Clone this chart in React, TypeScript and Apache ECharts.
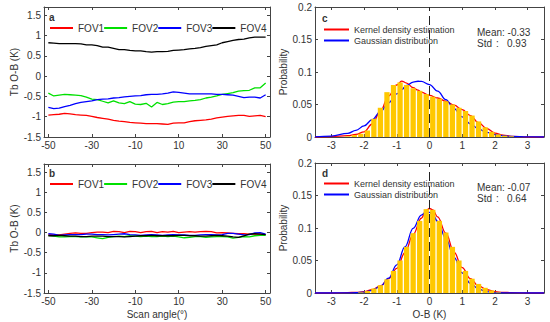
import React, { useEffect, useRef } from "react";
import * as echarts from "echarts";

// ---------- data ----------
const SCAN_ANGLES = [
  -50, -47.5, -45, -42.5, -40, -37.5, -35, -32.5, -30, -27.5, -25, -22.5, -20, -17.5, -15, -12.5, -10, -7.5, -5, -2.5,
  0, 2.5, 5, 7.5, 10, 12.5, 15, 17.5, 20, 22.5, 25, 27.5, 30, 32.5, 35, 37.5, 40, 42.5, 45, 47.5, 50,
];

const FOV1_A = [
  -0.96, -0.95, -0.94, -0.92, -0.93, -0.95, -0.96, -0.97, -0.99, -1.02, -1.04, -1.06, -1.09, -1.11, -1.12, -1.14, -1.15, -1.16, -1.17, -1.17,
  -1.17, -1.18, -1.19, -1.16, -1.15, -1.15, -1.12, -1.1, -1.09, -1.08, -1.06, -1.03, -1.01, -0.99, -0.98, -0.97, -0.97, -0.99, -0.98, -0.97, -1.0,
];
const FOV2_A = [
  -0.42, -0.49, -0.47, -0.45, -0.46, -0.47, -0.48, -0.52, -0.57, -0.58, -0.62, -0.66, -0.61, -0.66, -0.68, -0.63, -0.69, -0.7, -0.67, -0.76,
  -0.65, -0.7, -0.68, -0.64, -0.63, -0.63, -0.61, -0.6, -0.58, -0.54, -0.52, -0.49, -0.45, -0.43, -0.41, -0.37, -0.36, -0.35, -0.29, -0.29, -0.17,
];
const FOV3_A = [
  -0.77, -0.8, -0.79, -0.75, -0.72, -0.68, -0.65, -0.63, -0.61, -0.58, -0.57, -0.56, -0.54, -0.53, -0.51, -0.5, -0.49, -0.48, -0.46, -0.45,
  -0.45, -0.44, -0.42, -0.39, -0.4, -0.42, -0.44, -0.44, -0.44, -0.44, -0.44, -0.45, -0.45, -0.46, -0.47, -0.5, -0.53, -0.52, -0.52, -0.54, -0.46,
];
const FOV4_A = [
  0.82, 0.81, 0.8, 0.8, 0.8, 0.8, 0.79, 0.77, 0.77, 0.75, 0.71, 0.71, 0.68, 0.65, 0.65, 0.63, 0.62, 0.62, 0.6, 0.59,
  0.6, 0.6, 0.61, 0.63, 0.64, 0.65, 0.67, 0.68, 0.7, 0.73, 0.75, 0.77, 0.82, 0.85, 0.88, 0.9, 0.91, 0.94, 0.96, 0.96, 0.96,
];

const FOV1_B = [
  -0.05, -0.06, -0.06, -0.04, -0.02, -0.01, -0.02, -0.02, 0.0, 0.01, 0.01, 0.0, 0.03, 0.02, 0.0, 0.03, 0.02, 0.0, 0.02, 0.03,
  0.0, 0.02, 0.01, 0.03, 0.0, 0.01, 0.02, 0.01, 0.02, 0.03, 0.02, -0.01, 0.0, -0.01, -0.02, -0.03, -0.03, -0.04, -0.04, -0.04, -0.05,
];
const FOV2_B = [
  -0.07, -0.09, -0.11, -0.11, -0.1, -0.1, -0.11, -0.1, -0.11, -0.13, -0.15, -0.12, -0.1, -0.09, -0.1, -0.08, -0.09, -0.1, -0.09, -0.1,
  -0.1, -0.09, -0.1, -0.09, -0.11, -0.13, -0.12, -0.1, -0.1, -0.12, -0.11, -0.1, -0.1, -0.11, -0.14, -0.12, -0.1, -0.11, -0.08, -0.07, -0.07,
];
const FOV3_B = [
  -0.03, -0.04, -0.07, -0.06, -0.05, -0.05, -0.05, -0.04, -0.04, -0.05, -0.05, -0.06, -0.05, -0.04, -0.03, -0.05, -0.06, -0.07, -0.06, -0.05,
  -0.06, -0.07, -0.06, -0.05, -0.06, -0.06, -0.07, -0.07, -0.06, -0.05, -0.05, -0.06, -0.05, -0.02, -0.02, -0.04, -0.06, -0.05, -0.01, 0.0, -0.04,
];
const FOV4_B = [
  -0.08, -0.08, -0.07, -0.08, -0.09, -0.09, -0.1, -0.1, -0.09, -0.09, -0.09, -0.1, -0.1, -0.1, -0.11, -0.1, -0.09, -0.08, -0.08, -0.07,
  -0.08, -0.08, -0.08, -0.08, -0.07, -0.07, -0.08, -0.08, -0.09, -0.09, -0.08, -0.07, -0.08, -0.09, -0.11, -0.12, -0.08, -0.04, -0.03, -0.04, -0.05,
];

const BINS_C = [
  -2.5, -2.3, -2.1, -1.9, -1.7, -1.5, -1.3, -1.1, -0.9, -0.7, -0.5, -0.3, -0.1, 0.1, 0.3, 0.5, 0.7, 0.9, 1.1, 1.3, 1.5, 1.7, 1.9, 2.1, 2.3, 2.5,
];
const PROB_C = [
  0.001, 0.003, 0.005, 0.01, 0.028, 0.045, 0.069, 0.08, 0.084, 0.08, 0.075, 0.071, 0.066, 0.062, 0.059, 0.055, 0.05, 0.045, 0.04, 0.033, 0.024, 0.015, 0.008, 0.004, 0.002, 0.001,
];
const CURVE_X_C = [
  -3.5, -3, -2.5, -2.25, -2, -1.75, -1.5, -1.25, -1, -0.85, -0.7, -0.5, -0.35, -0.25, 0, 0.25, 0.5, 0.75, 1, 1.25, 1.5, 1.75, 2, 2.25, 2.5, 3, 3.5,
];
const KDE_C = [
  0, 0.0005, 0.002, 0.004, 0.008, 0.02, 0.04, 0.063, 0.08, 0.086, 0.083, 0.076, 0.072, 0.069, 0.064, 0.06, 0.055, 0.049, 0.042, 0.033, 0.022, 0.013, 0.006, 0.003, 0.001, 0, 0,
];
const GAUSS_C = [
  0.0003, 0.0014, 0.0056, 0.0102, 0.0171, 0.0267, 0.0389, 0.0526, 0.0662, 0.073, 0.0793, 0.0844, 0.0858, 0.0855, 0.0806, 0.0706, 0.0576, 0.0437, 0.0309, 0.0203, 0.0124, 0.007, 0.0037, 0.0018, 0.0008, 0.0001, 0,
];

const BINS_D = [
  -2.1, -1.9, -1.7, -1.5, -1.3, -1.1, -0.9, -0.7, -0.5, -0.3, -0.1, 0.1, 0.3, 0.5, 0.7, 0.9, 1.1, 1.3, 1.5, 1.7, 1.9, 2.1,
];
const PROB_D = [
  0.001, 0.003, 0.007, 0.012, 0.021, 0.034, 0.05, 0.071, 0.092, 0.111, 0.129, 0.128, 0.111, 0.093, 0.071, 0.05, 0.034, 0.022, 0.014, 0.008, 0.004, 0.001,
];
const CURVE_X_D = [
  -3.5, -3, -2.5, -2.25, -2, -1.75, -1.5, -1.25, -1, -0.75, -0.5, -0.25, -0.1, 0, 0.1, 0.25, 0.5, 0.75, 1, 1.25, 1.5, 1.75, 2, 2.25, 2.5, 3, 3.5,
];
const KDE_D = [
  0, 0, 0.0005, 0.001, 0.002, 0.005, 0.011, 0.022, 0.038, 0.062, 0.09, 0.115, 0.127, 0.13, 0.128, 0.117, 0.092, 0.063, 0.039, 0.022, 0.011, 0.005, 0.002, 0.001, 0.0005, 0, 0,
];
const GAUSS_D = [
  0, 0, 0.0001, 0.0004, 0.0013, 0.004, 0.0103, 0.0228, 0.0434, 0.0709, 0.0995, 0.1199, 0.1246, 0.124, 0.1204, 0.11, 0.0839, 0.0549, 0.0308, 0.0149, 0.0061, 0.0022, 0.0007, 0.0002, 0.0001, 0, 0,
];

const SCAN_TICKS = [-50, -30, -10, 10, 30, 50];
const TB_TICKS = [-1.5, -1, -0.5, 0, 0.5, 1, 1.5];
const OB_TICKS = [-3, -2, -1, 0, 1, 2, 3];
const PROB_TICKS = [0, 0.05, 0.1, 0.15, 0.2];

const FOV_NAMES = ["FOV1", "FOV2", "FOV3", "FOV4"];
const FOV_COLORS = ["#ff0000", "#00e000", "#0000ff", "#000000"];
const CURVE_NAMES = ["Kernel density estimation", "Gaussian distribution"];
const STATS_C = { mean: "-0.33", std: "0.93" };
const STATS_D = { mean: "-0.07", std: "0.64" };

// ---------- styling ----------
const FONT = "Liberation Sans, Arial, Helvetica, sans-serif";
const AX = "#444";
const TXT = "#333";
const BAR = "#FFC800";

const GRIDS = [
  { left: 44, top: 7, width: 226, height: 130 },
  { left: 44, top: 164, width: 226, height: 129 },
  { left: 315, top: 7, width: 229, height: 130 },
  { left: 315, top: 163, width: 229, height: 130 },
];

function zip(xs: number[], ys: number[]) {
  return xs.map((x, i) => [x, ys[i]]);
}

function xAxis(gi: number, min: number, max: number, ticks: number[], pos: string, show: boolean, name?: string) {
  return {
    type: "value",
    gridIndex: gi,
    min,
    max,
    position: pos,
    axisLine: { show: true, onZero: false, lineStyle: { color: AX, width: 1 } },
    axisTick: { show: true, inside: true, length: 3, customValues: ticks, lineStyle: { color: AX } },
    axisLabel: { show, customValues: ticks, fontSize: 10, color: TXT, margin: 3, fontFamily: FONT },
    splitLine: { show: false },
    name: name || "",
    nameLocation: "middle",
    nameGap: 16,
    nameTextStyle: { fontSize: 10, color: TXT, fontFamily: FONT },
  };
}

function yAxis(gi: number, min: number, max: number, ticks: number[], pos: string, show: boolean, name?: string, gap = 28) {
  return {
    type: "value",
    gridIndex: gi,
    min,
    max,
    position: pos,
    axisLine: { show: true, onZero: false, lineStyle: { color: AX, width: 1 } },
    axisTick: { show: true, inside: true, length: 3, customValues: ticks, lineStyle: { color: AX } },
    axisLabel: { show, customValues: ticks, fontSize: 10, color: TXT, margin: 3, fontFamily: FONT },
    splitLine: { show: false },
    name: name || "",
    nameLocation: "middle",
    nameGap: gap,
    nameTextStyle: { fontSize: 10, color: TXT, fontFamily: FONT },
  };
}

export default function App() {
  const ref = useRef<HTMLDivElement>(null);
  useEffect(() => {
    if (!ref.current) return;
    const chart = echarts.init(ref.current, undefined, { renderer: "svg" });

    const lineSeries = (name: string, color: string, xi: number, data: number[][], smooth = false) => ({
      type: "line",
      name,
      xAxisIndex: xi,
      yAxisIndex: xi,
      data,
      z: 1,
      showSymbol: false,
      symbol: "none",
      smooth: smooth ? 0.4 : false,
      smoothMonotone: "x",
      lineStyle: { color, width: 1.3 },
      itemStyle: { color },
    });

    const series: any[] = [];
    const fovA = [FOV1_A, FOV2_A, FOV3_A, FOV4_A];
    const fovB = [FOV1_B, FOV2_B, FOV3_B, FOV4_B];
    FOV_NAMES.forEach((n, i) => series.push(lineSeries(n, FOV_COLORS[i], 0, zip(SCAN_ANGLES, fovA[i]))));
    FOV_NAMES.forEach((n, i) => series.push(lineSeries(n, FOV_COLORS[i], 1, zip(SCAN_ANGLES, fovB[i]))));

    const dashed = {
      silent: true,
      symbol: ["none", "none"],
      label: { show: false },
      lineStyle: { color: "#222", type: [9, 5], width: 1 },
      data: [{ xAxis: 0 }],
      z: 10,
    };

    series.push(lineSeries(CURVE_NAMES[0], "#ff0000", 2, zip(CURVE_X_C, KDE_C), true));
    series.push(lineSeries(CURVE_NAMES[1], "#0000ff", 2, zip(CURVE_X_C, GAUSS_C), true));
    series.push({
      type: "bar",
      name: "hist c",
      xAxisIndex: 2,
      yAxisIndex: 2,
      data: zip(BINS_C, PROB_C),
      barWidth: 5.3,
      z: 2,
      itemStyle: { color: BAR },
      markLine: dashed,
    });

    series.push(lineSeries(CURVE_NAMES[0], "#ff0000", 3, zip(CURVE_X_D, KDE_D), true));
    series.push(lineSeries(CURVE_NAMES[1], "#0000ff", 3, zip(CURVE_X_D, GAUSS_D), true));
    series.push({
      type: "bar",
      name: "hist d",
      xAxisIndex: 3,
      yAxisIndex: 3,
      data: zip(BINS_D, PROB_D),
      barWidth: 5.3,
      z: 2,
      itemStyle: { color: BAR },
      markLine: dashed,
    });

    const legendBase = {
      icon: "rect",
      itemWidth: 23,
      itemHeight: 2,
      padding: 0,
      textStyle: { fontSize: 10, color: TXT, fontFamily: FONT },
      selectedMode: false,
    };

    const txt = (x: number, y: number, text: string, bold = false) => ({
      type: "text",
      x,
      y,
      style: { text, fill: TXT, font: `${bold ? "bold " : ""}10px ${FONT}`, textVerticalAlign: "middle" },
    });

    chart.setOption({
      animation: false,
      backgroundColor: "#fff",
      grid: GRIDS.map((g) => ({ ...g, containLabel: false })),
      xAxis: [
        xAxis(0, -52, 52, SCAN_TICKS, "bottom", true),
        xAxis(1, -52, 52, SCAN_TICKS, "bottom", true, "Scan angle(°)"),
        xAxis(2, -3.5, 3.5, OB_TICKS, "bottom", true),
        xAxis(3, -3.5, 3.5, OB_TICKS, "bottom", true, "O-B (K)"),
        xAxis(0, -52, 52, SCAN_TICKS, "top", false),
        xAxis(1, -52, 52, SCAN_TICKS, "top", false),
        xAxis(2, -3.5, 3.5, OB_TICKS, "top", false),
        xAxis(3, -3.5, 3.5, OB_TICKS, "top", false),
      ],
      yAxis: [
        yAxis(0, -1.5, 1.7, TB_TICKS, "left", true, "Tb O-B (K)", 24),
        yAxis(1, -1.5, 1.7, TB_TICKS, "left", true, "Tb O-B (K)", 24),
        yAxis(2, 0, 0.2, PROB_TICKS, "left", true, "Probability", 27),
        yAxis(3, 0, 0.2, PROB_TICKS, "left", true, "Probability", 27),
        yAxis(0, -1.5, 1.7, TB_TICKS, "right", false),
        yAxis(1, -1.5, 1.7, TB_TICKS, "right", false),
        yAxis(2, 0, 0.2, PROB_TICKS, "right", false),
        yAxis(3, 0, 0.2, PROB_TICKS, "right", false),
      ],
      legend: [
        { ...legendBase, left: 50, top: 23, itemGap: 0, data: FOV_NAMES },
        { ...legendBase, left: 50, top: 179, itemGap: 0, data: FOV_NAMES },
        { ...legendBase, left: 324, top: 25, orient: "vertical", itemWidth: 25, itemGap: 2, data: CURVE_NAMES, textStyle: { ...legendBase.textStyle, fontSize: 9 } },
        { ...legendBase, left: 324, top: 179, orient: "vertical", itemWidth: 25, itemGap: 2, data: CURVE_NAMES, textStyle: { ...legendBase.textStyle, fontSize: 9 } },
      ],
      graphic: [
        txt(49, 17, "a", true),
        txt(49, 173, "b", true),
        txt(322, 18, "c", true),
        txt(322, 173, "d", true),
        txt(477, 32, `Mean: ${STATS_C.mean}`),
        txt(477, 43, "Std"),
        txt(496, 43, ":"),
        txt(507, 43, STATS_C.std),
        txt(477, 187, `Mean: ${STATS_D.mean}`),
        txt(477, 198, "Std"),
        txt(496, 198, ":"),
        txt(507, 198, STATS_D.std),
      ],
      series,
    });
    return () => chart.dispose();
  }, []);

  return (
    <div
      ref={ref}
      style={{ position: "fixed", left: 0, top: 0, width: 550, height: 322, background: "#fff" }}
    />
  );
}
